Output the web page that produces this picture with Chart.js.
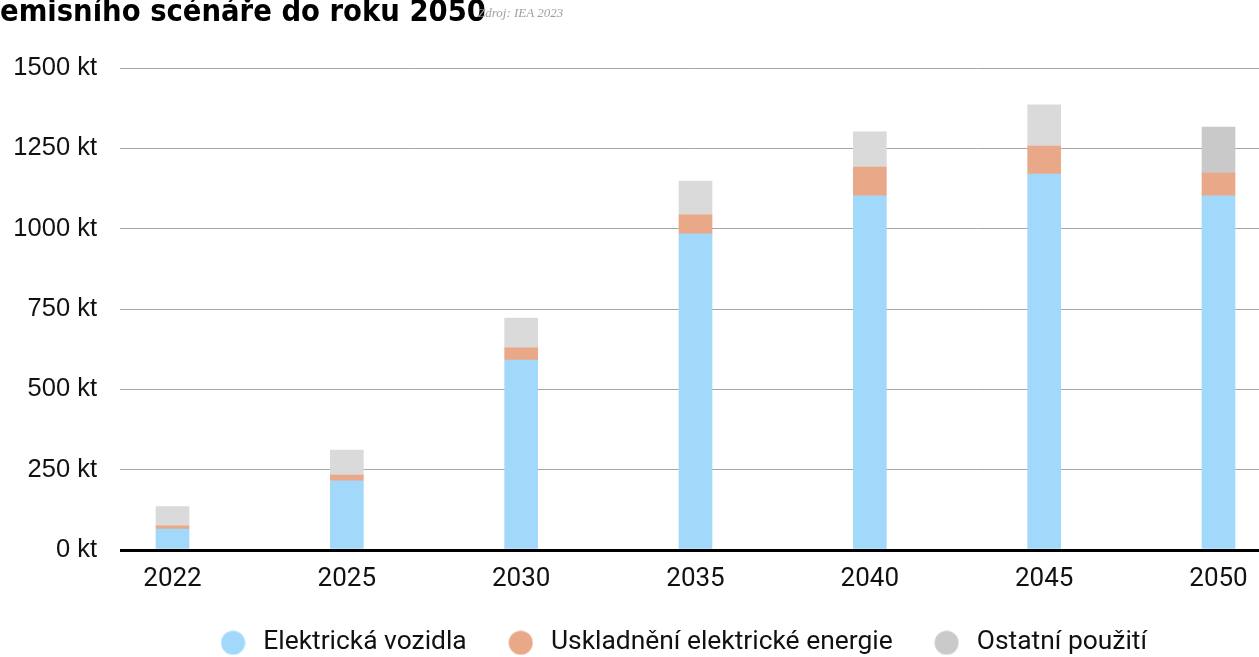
<!DOCTYPE html>
<html>
<head>
<meta charset="utf-8">
<script src="https://cdn.jsdelivr.net/npm/chart.js@4/dist/chart.umd.min.js"></script>
<style>
  html, body { margin: 0; padding: 0; background: #fff; overflow: hidden; width: 1259px; height: 657px; }
  #wrap { position: absolute; left: 0; top: 0; width: 1259px; height: 666px; }
  #title { position: absolute; left: 0; top: -7px; font-family: "DejaVu Sans", sans-serif; font-weight: bold; font-size: 30px; color: #000; white-space: nowrap; transform-origin: 0 0; line-height: 36px; }
  #source { position: absolute; left: 478px; top: 5px; font-family: "Liberation Serif", serif; font-style: italic; font-size: 13px; color: #a0a0a0; white-space: nowrap; }
</style>
</head>
<body>
<div id="wrap"><canvas id="c"></canvas></div>
<div id="title">emisního scénáře do roku 2050</div>
<div id="source">Zdroj: IEA 2023</div>
<script>
const years = ['2022', '2025', '2030', '2035', '2040', '2045', '2050'];
const seriesNames = ['Elektrická vozidla', 'Uskladnění elektrické energie', 'Ostatní použití'];
const evValues = [65, 215, 591, 984, 1102, 1170, 1102];
const storageValues = [10, 18, 38, 59, 90, 87, 71];
const otherValues = [60, 78, 93, 105, 109, 128, 143];
const yTicks = [0, 250, 500, 750, 1000, 1250, 1500];
const unit = ' kt';

const t = document.getElementById('title');
const tw = t.getBoundingClientRect().width;
t.style.transform = 'scaleX(' + (486 / tw) + ')';

const colors = ['#a2d8fa', '#e9a988', '#dadada'];
const legendColors = ['#a2d8fa', '#e9a988', '#cacaca'];
const otherColors = otherValues.map((v, i) => i === otherValues.length - 1 ? '#c9c9c9' : '#dadada');

function circle(color) {
  const c = document.createElement('canvas');
  c.width = 25; c.height = 25;
  const g = c.getContext('2d');
  g.fillStyle = color;
  g.beginPath(); g.arc(12.5, 12.5, 12, 0, Math.PI * 2); g.fill();
  return c;
}
const legendPoints = legendColors.map(circle);

const toPts = arr => arr.map((v, i) => ({ x: i, y: v }));

const legendShift = {
  id: 'legendShift',
  beforeDraw(ch) {
    const L = ch.legend;
    if (!L._shifted) { L.left -= 12; L.right -= 12; L._shifted = true; }
  }
};

new Chart(document.getElementById('c'), {
  type: 'bar',
  data: {
    datasets: [
      { label: seriesNames[0], data: toPts(evValues), backgroundColor: colors[0], barThickness: 33 },
      { label: seriesNames[1], data: toPts(storageValues), backgroundColor: colors[1], barThickness: 33 },
      { label: seriesNames[2], data: toPts(otherValues), backgroundColor: otherColors, barThickness: 33 }
    ]
  },
  plugins: [legendShift],
  options: {
    responsive: true,
    maintainAspectRatio: false,
    animation: false,
    layout: { padding: { top: 68, left: 0, right: 0, bottom: 0 } },
    scales: {
      x: {
        type: 'linear',
        stacked: true,
        offset: false,
        min: -0.2553,
        max: 6.2323,
        grid: { display: false, offset: false, drawTicks: false },
        border: { display: false },
        afterBuildTicks: s => { s.ticks = years.map((_, i) => ({ value: i })); },
        afterFit: s => { s.height = 42.6; s.paddingLeft = 0; s.paddingRight = 0; },
        ticks: {
          autoSkip: false, maxRotation: 0, padding: 14,
          color: '#111',
          font: { family: 'Roboto', size: 26 },
          callback: v => years[v]
        }
      },
      y: {
        stacked: true,
        min: 0, max: 1500,
        afterFit: s => { s.width = 128; s.paddingTop = 0; s.paddingBottom = 0; },
        afterBuildTicks: s => { s.ticks = yTicks.map(v => ({ value: v })); },
        border: { display: false },
        grid: {
          drawTicks: true, tickLength: 8,
          color: c => c.tick && c.tick.value === 0 ? '#000' : '#a6a6a6',
          lineWidth: c => c.tick && c.tick.value === 0 ? 3 : 1
        },
        ticks: {
          padding: 23, color: '#111',
          font: { family: 'Liberation Sans', size: 25.5 },
          callback: v => v + unit
        }
      }
    },
    plugins: {
      tooltip: { enabled: false },
      legend: {
        position: 'bottom',
        fullSize: false,
        labels: {
          usePointStyle: true,
          pointStyleWidth: 34,
          boxHeight: 24,
          padding: 37,
          color: '#111',
          font: { family: 'Roboto', size: 26.4 },
          generateLabels: ch => {
            const items = Chart.defaults.plugins.legend.labels.generateLabels(ch);
            items.forEach((it, i) => { it.pointStyle = legendPoints[i]; it.fillStyle = legendColors[i]; it.strokeStyle = legendColors[i]; it.lineWidth = 0; });
            return items;
          }
        }
      }
    }
  }
});
</script>
</body>
</html>
